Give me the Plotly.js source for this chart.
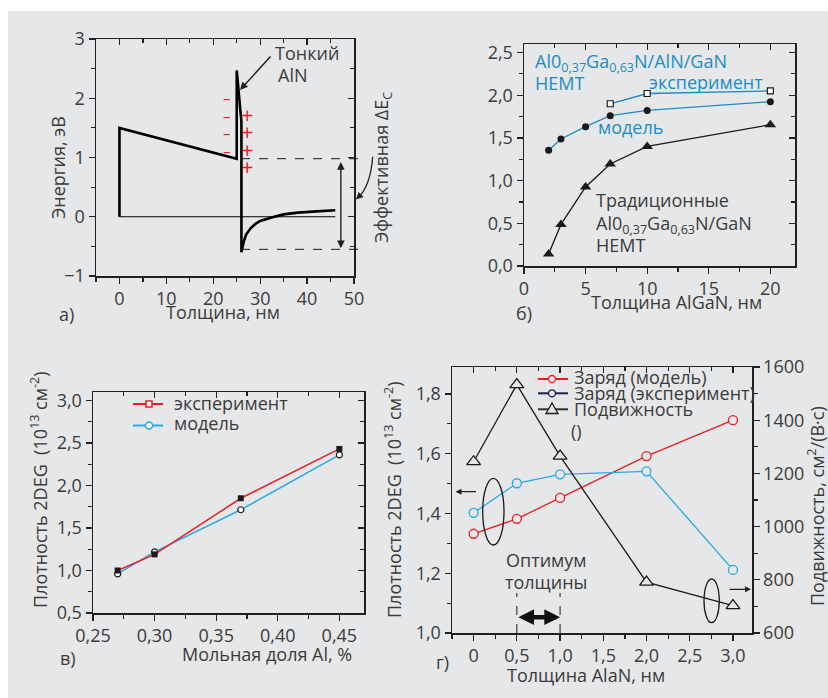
<!DOCTYPE html>
<html>
<head>
<meta charset="utf-8">
<script src="https://cdn.plot.ly/plotly-3.0.1.min.js"></script>
<style>html,body{margin:0;padding:0;background:#fff;}#chart{width:828px;height:698px;}</style>
</head>
<body>
<div id="chart"></div>
<script>
// ---------- data ----------
// panel a: conduction band profile
const aX = [0, 0, 25, 25, 26, 26, 26.5, 27, 28, 29, 30, 31.5, 33, 35, 38, 42, 46];
const aY = [0, 1.5, 0.98, 2.47, 1.6, -0.6, -0.42, -0.3, -0.19, -0.12, -0.07, -0.03, 0.0, 0.04, 0.07, 0.09, 0.11];
const aBaseX = [0, 46];
const aBaseY = [0, 0];
const aMinusX = 23, aMinusY = [2.0, 1.7, 1.41, 1.11];
const aPlusX = 27.2, aPlusY = [1.73, 1.45, 1.14, 0.86];

// panel б
const bExpX = [7, 10, 20];
const bExpY = [1.90, 2.02, 2.05];
const bModX = [2, 3, 5, 7, 10, 20];
const bModY = [1.355, 1.487, 1.632, 1.76, 1.822, 1.924];
const bTradX = [2, 3, 5, 7, 10, 20];
const bTradY = [0.14, 0.487, 0.926, 1.195, 1.40, 1.655];

// panel в
const vX = [0.27, 0.30, 0.37, 0.45];
const vExpY = [1.00, 1.19, 1.85, 2.43];
const vModY = [0.96, 1.22, 1.715, 2.36];

// panel г
const gX = [0, 0.5, 1.0, 2.0, 3.0];
const gModY = [1.332, 1.382, 1.452, 1.592, 1.712];
const gExpY = [1.402, 1.501, 1.531, 1.541, 1.211];
const gMob = [1244, 1534, 1265, 791, 703];
const gTickVals = [0, 0.5, 1.0, 1.5, 2.0, 2.5, 3.0];
const gTickText = ['0', '0,5', '1,0', '1,5', '2,0', '2,5', '3,0'];

// ---------- helpers ----------
const W = 828, H = 698;
const PX = x => x / W;
const PY = y => 1 - y / H;
const F = '"Open Sans", "Noto Sans", sans-serif';
const TXT = '#3b3b3b';
const AXC = '#231f20';
const BG = '#e6e7e8';
const RED = '#ed1c24';
const CYAN = '#27aae1';
const BLUE = '#1b8cc4';
const NAVY = '#1b1f4b';

const base = {
  showgrid: false, zeroline: false, showline: true, linecolor: AXC, linewidth: 1.5,
  ticks: 'outside', ticklen: 6, tickwidth: 1.3, tickcolor: AXC, mirror: true,
  tickfont: {family: F, size: 18, color: TXT}
};
function minor(d, t) { return {dtick: d, ticks: t || 'outside', ticklen: 4, tickwidth: 1.2, tickcolor: AXC}; }
function overlay(ov, anchor, side, range, dtick, tick0, md) {
  return {overlaying: ov, anchor: anchor, side: side, range: range, autorange: false, dtick: dtick, tick0: tick0,
    ticks: 'inside', ticklen: 6, tickwidth: 1.3, tickcolor: AXC, showticklabels: false,
    showline: false, showgrid: false, zeroline: false, minor: minor(md, 'inside')};
}
function note(text, x, y, o) {
  return Object.assign({text: text, x: PX(x), y: PY(y), xref: 'paper', yref: 'paper', showarrow: false,
    xanchor: 'center', yanchor: 'middle', font: {family: F, size: 18, color: TXT}}, o || {});
}
function P(x, y) { return PX(x).toFixed(5) + ',' + PY(y).toFixed(5); }
// placeholder (no visible mark) so the mirrored tick axes get a subplot and are drawn
function holder(xa, ya) { return {x: [null], y: [null], xaxis: xa, yaxis: ya, mode: 'lines', hoverinfo: 'skip', line: {width: 0}}; }

// ---------- traces ----------
const traces = [
  // a
  {x: aBaseX, y: aBaseY, xaxis: 'x', yaxis: 'y', mode: 'lines', line: {color: '#000', width: 1}},
  {x: aX, y: aY, xaxis: 'x', yaxis: 'y', mode: 'lines', line: {color: '#000', width: 2.6}},
  // б
  {x: bTradX, y: bTradY, xaxis: 'x2', yaxis: 'y2', mode: 'lines+markers', line: {color: '#1a1a1a', width: 1.3},
    marker: {symbol: 'triangle-up', size: 10, color: '#1a1a1a'}},
  {x: bModX, y: bModY, xaxis: 'x2', yaxis: 'y2', mode: 'lines+markers', line: {color: BLUE, width: 1.3},
    marker: {symbol: 'circle', size: 7, color: '#1a1a1a'}},
  {x: bExpX, y: bExpY, xaxis: 'x2', yaxis: 'y2', mode: 'lines+markers', line: {color: BLUE, width: 1.3},
    marker: {symbol: 'square', size: 6, color: '#fff', line: {color: '#1a1a1a', width: 1.2}}},
  // в
  {x: vX, y: vModY, xaxis: 'x3', yaxis: 'y3', mode: 'lines+markers', line: {color: CYAN, width: 1.5},
    marker: {symbol: 'circle', size: 6, color: '#fff', line: {color: '#1a1a1a', width: 1.2}}},
  {x: vX, y: vExpY, xaxis: 'x3', yaxis: 'y3', mode: 'lines+markers', line: {color: RED, width: 1.5},
    marker: {symbol: 'square', size: 6, color: '#1a1a1a'}},
  // г
  {x: gX, y: gMob, xaxis: 'x4', yaxis: 'y8', mode: 'lines+markers', line: {color: '#1a1a1a', width: 1.3},
    marker: {symbol: 'triangle-up', size: 12, color: BG, line: {color: '#1a1a1a', width: 1.3}}},
  {x: gX, y: gModY, xaxis: 'x4', yaxis: 'y4', mode: 'lines+markers', line: {color: RED, width: 1.3},
    marker: {symbol: 'circle', size: 9, color: BG, line: {color: RED, width: 1.3}}},
  {x: gX, y: gExpY, xaxis: 'x4', yaxis: 'y4', mode: 'lines+markers', line: {color: CYAN, width: 1.3},
    marker: {symbol: 'circle', size: 9, color: BG, line: {color: CYAN, width: 1.3}}},
  holder('x5', 'y'), holder('x', 'y5'),
  holder('x6', 'y2'), holder('x2', 'y6'),
  holder('x7', 'y3'), holder('x3', 'y7'),
  holder('x9', 'y4')
];

// ---------- annotations ----------
const ann = [];
// a
ann.push(note('Энергия, эВ', 58, 168, {textangle: -90}));
ann.push(note('Толщина, нм', 223, 312));
ann.push(note('а)', 66, 314));
ann.push(note('Тонкий', 273, 53, {xanchor: 'left'}));
ann.push(note('AlN', 276, 75, {xanchor: 'left'}));
ann.push(note('Эффективная ΔE<sub>C</sub>', 383, 168, {textangle: -90}));
aMinusY.forEach(v => ann.push({text: '–', x: aMinusX, y: v, xref: 'x', yref: 'y', showarrow: false,
  font: {family: F, size: 15, color: RED}}));
aPlusY.forEach(v => ann.push({text: '+', x: aPlusX, y: v, xref: 'x', yref: 'y', showarrow: false,
  font: {family: F, size: 22, color: RED}}));
ann.push({text: '', x: 25.7, y: 2.14, xref: 'x', yref: 'y', ax: 32.5, ay: 2.73, axref: 'x', ayref: 'y',
  showarrow: true, arrowhead: 2, arrowsize: 1.1, arrowwidth: 1.4, arrowcolor: AXC});
ann.push({text: '', x: 47.2, y: -0.53, xref: 'x', yref: 'y', ax: 47.2, ay: 0.95, axref: 'x', ayref: 'y',
  showarrow: true, arrowhead: 2, arrowside: 'end+start', arrowsize: 1.1, arrowwidth: 1.4, arrowcolor: AXC});
ann.push({text: '', x: PX(356), y: PY(199.5), xref: 'paper', yref: 'paper', ax: 5, ay: -5,
  showarrow: true, arrowhead: 2, arrowsize: 1.1, arrowwidth: 1.3, arrowcolor: AXC});
// б
ann.push(note('Al0<sub>0,37</sub>Ga<sub>0,63</sub>N/AlN/GaN', 533, 62, {xanchor: 'left', font: {family: F, size: 18, color: BLUE}}));
ann.push(note('HEMT', 533, 83, {xanchor: 'left', font: {family: F, size: 18, color: BLUE}}));
ann.push(note('эксперимент', 647, 82, {xanchor: 'left', font: {family: F, size: 18, color: BLUE}}));
ann.push(note('модель', 596, 127, {xanchor: 'left', font: {family: F, size: 18, color: BLUE}}));
ann.push(note('Традиционные', 594, 200, {xanchor: 'left'}));
ann.push(note('Al0<sub>0,37</sub>Ga<sub>0,63</sub>N/GaN', 594, 224, {xanchor: 'left'}));
ann.push(note('HEMT', 594, 245, {xanchor: 'left'}));
ann.push(note('Толщина AlGaN, нм', 676, 302));
ann.push(note('б)', 524, 313));
// в
ann.push(note('Плотность 2DEG  (10<sup>13</sup> см<sup>-2</sup>)', 39, 490, {textangle: -90}));
ann.push(note('Мольная доля Al, %', 267, 654));
ann.push(note('в)', 68, 658));
ann.push(note('эксперимент', 172, 403, {xanchor: 'left'}));
ann.push(note('модель', 172, 423, {xanchor: 'left'}));
// г
ann.push(note('Плотность 2DEG  (10<sup>13</sup> см<sup>-2</sup>)', 393, 500, {textangle: -90}));
ann.push(note('Подвижность, см<sup>2</sup>/(В·с)', 816, 506, {textangle: -90}));
ann.push(note('Толщина AlaN, нм', 586, 675));
ann.push(note('г)', 442, 662));
ann.push(note('Оптимум', 546, 560));
ann.push(note('толщины', 546, 582));
ann.push(note('Заряд (модель)', 572, 377, {xanchor: 'left'}));
ann.push(note('Заряд (эксперимент)', 572, 393, {xanchor: 'left'}));
ann.push(note('Подвижность', 572, 409, {xanchor: 'left'}));
ann.push(note('()', 569, 431, {xanchor: 'left'}));
ann.push({text: '', x: PX(455.5), y: PY(491.7), xref: 'paper', yref: 'paper', ax: 22, ay: 0,
  showarrow: true, arrowhead: 2, arrowsize: 1, arrowwidth: 1.2, arrowcolor: AXC});
ann.push({text: '', x: PX(751), y: PY(589.3), xref: 'paper', yref: 'paper', ax: -23, ay: 0,
  showarrow: true, arrowhead: 2, arrowsize: 1, arrowwidth: 1.2, arrowcolor: AXC});
ann.push({text: '', x: 1.0, y: 1.053, xref: 'x4', yref: 'y4', ax: 0.5, ay: 1.053, axref: 'x4', ayref: 'y4',
  showarrow: true, arrowhead: 2, arrowside: 'end+start', arrowsize: 0.7, arrowwidth: 4.5, arrowcolor: '#111'});

// ---------- shapes ----------
const shapes = [
  {type: 'rect', xref: 'paper', yref: 'paper', x0: 0, x1: 1, y0: PY(11), y1: 1, fillcolor: '#fff', line: {width: 0}, layer: 'below'},
  {type: 'rect', xref: 'paper', yref: 'paper', x0: 0, x1: PX(8), y0: 0, y1: 1, fillcolor: '#fff', line: {width: 0}, layer: 'below'},
  // curved arrow for ΔEc
  {type: 'path', xref: 'paper', yref: 'paper', path: 'M' + P(372.7, 156.7) + ' Q' + P(370.5, 186) + ' ' + P(358, 197.8),
    line: {color: AXC, width: 1.3}},
  // в legend
  {type: 'line', xref: 'paper', yref: 'paper', x0: PX(133), x1: PX(163), y0: PY(404), y1: PY(404), line: {color: RED, width: 2}},
  {type: 'rect', xref: 'paper', yref: 'paper', x0: PX(146), x1: PX(152), y0: PY(407), y1: PY(401), fillcolor: '#fff', line: {color: RED, width: 1.5}},
  {type: 'line', xref: 'paper', yref: 'paper', x0: PX(133), x1: PX(163), y0: PY(425.5), y1: PY(425.5), line: {color: CYAN, width: 2}},
  {type: 'circle', xref: 'paper', yref: 'paper', x0: PX(145.5), x1: PX(152.5), y0: PY(429), y1: PY(422), fillcolor: '#fff', line: {color: CYAN, width: 1.5}},
  // г legend
  {type: 'line', xref: 'paper', yref: 'paper', x0: PX(538), x1: PX(568), y0: PY(379), y1: PY(379), line: {color: RED, width: 2}},
  {type: 'circle', xref: 'paper', yref: 'paper', x0: PX(548.5), x1: PX(555.5), y0: PY(382.5), y1: PY(375.5), fillcolor: BG, line: {color: RED, width: 1.3}},
  {type: 'line', xref: 'paper', yref: 'paper', x0: PX(538), x1: PX(568), y0: PY(393.3), y1: PY(393.3), line: {color: NAVY, width: 2}},
  {type: 'circle', xref: 'paper', yref: 'paper', x0: PX(548.5), x1: PX(555.5), y0: PY(396.8), y1: PY(389.8), fillcolor: BG, line: {color: NAVY, width: 1.3}},
  {type: 'line', xref: 'paper', yref: 'paper', x0: PX(538), x1: PX(568), y0: PY(409.3), y1: PY(409.3), line: {color: '#333', width: 2}},
  {type: 'path', xref: 'paper', yref: 'paper', path: 'M' + P(546, 413.5) + ' L' + P(558, 413.5) + ' L' + P(552, 403) + ' Z',
    fillcolor: BG, line: {color: '#1a1a1a', width: 1.3}},
  // г ellipses
  {type: 'circle', xref: 'paper', yref: 'paper', x0: PX(482.7), x1: PX(504), y0: PY(545), y1: PY(478.3), line: {color: '#1a1a1a', width: 1.3}},
  {type: 'circle', xref: 'paper', yref: 'paper', x0: PX(704), x1: PX(719.3), y0: PY(622.7), y1: PY(579), line: {color: '#1a1a1a', width: 1.3}},
  // г optimum dashed
  {type: 'line', xref: 'x4', yref: 'y4', x0: 0.5, x1: 0.5, y0: 1.0, y1: 1.134, line: {color: '#1a1a1a', width: 1, dash: 'dash'}},
  {type: 'line', xref: 'x4', yref: 'y4', x0: 1.0, x1: 1.0, y0: 1.0, y1: 1.134, line: {color: '#1a1a1a', width: 1, dash: 'dash'}}
];
// a dashed levels (x in paper, y in data)
[0.98, -0.55].forEach(v => shapes.push({type: 'line', xref: 'paper', yref: 'y', x0: PX(241), x1: PX(363), y0: v, y1: v,
  line: {color: '#1a1a1a', width: 1, dash: 'dash'}}));

// ---------- layout ----------
const layout = {
  width: W, height: H, margin: {l: 0, r: 0, t: 0, b: 0}, paper_bgcolor: BG, plot_bgcolor: 'rgba(0,0,0,0)',
  showlegend: false, separators: ', ', font: {family: F, color: TXT, size: 17},
  xaxis: Object.assign({}, base, {domain: [PX(96), PX(354)], anchor: 'y', range: [-5, 50], dtick: 10, tick0: 0, minor: minor(5)}),
  yaxis: Object.assign({}, base, {domain: [PY(276), PY(39)], anchor: 'x', range: [-1, 3], dtick: 1, tick0: 0, minor: minor(0.5)}),
  xaxis5: overlay('x', 'y', 'top', [-5, 50], 10, 0, 5),
  yaxis5: overlay('y', 'x', 'right', [-1, 3], 1, 0, 0.5),

  xaxis2: Object.assign({}, base, {domain: [PX(524), PX(795)], anchor: 'y2', range: [0, 22], dtick: 5, tick0: 0, minor: minor(2.5)}),
  yaxis2: Object.assign({}, base, {domain: [PY(266), PY(44)], anchor: 'x2', range: [0, 2.6], dtick: 0.5, tick0: 0, tickformat: '.1f', minor: minor(0.25)}),
  xaxis6: overlay('x2', 'y2', 'top', [0, 22], 5, 0, 2.5),
  yaxis6: overlay('y2', 'x2', 'right', [0, 2.6], 0.5, 0, 0.25),

  xaxis3: Object.assign({}, base, {domain: [PX(93), PX(364)], anchor: 'y3', range: [0.25, 0.47], dtick: 0.05, tick0: 0.25, tickformat: '.2f', minor: minor(0.025)}),
  yaxis3: Object.assign({}, base, {domain: [PY(613), PY(392)], anchor: 'x3', range: [0.5, 3.1], dtick: 0.5, tick0: 0, tickformat: '.1f', minor: minor(0.25)}),
  xaxis7: overlay('x3', 'y3', 'top', [0.25, 0.47], 0.05, 0.25, 0.025),
  yaxis7: overlay('y3', 'x3', 'right', [0.5, 3.1], 0.5, 0, 0.25),

  xaxis4: Object.assign({}, base, {domain: [PX(452), PX(752)], anchor: 'y4', range: [-0.25, 3.22], tickmode: 'array', tickvals: gTickVals, ticktext: gTickText, minor: minor(0.25)}),
  yaxis4: Object.assign({}, base, {domain: [PY(633), PY(367)], anchor: 'x4', range: [1.0, 1.89], dtick: 0.2, tick0: 1.0, tickformat: '.1f', mirror: false, minor: minor(0.1)}),
  yaxis8: Object.assign({}, base, {overlaying: 'y4', anchor: 'x4', side: 'right', range: [600, 1600], dtick: 200, tick0: 600, mirror: false, minor: minor(100)}),
  xaxis9: overlay('x4', 'y4', 'top', [-0.25, 3.22], 0.5, 0, 0.25),

  shapes: shapes,
  annotations: ann
};

Plotly.newPlot('chart', traces, layout, {staticPlot: true, displayModeBar: false});
</script>
</body>
</html>
